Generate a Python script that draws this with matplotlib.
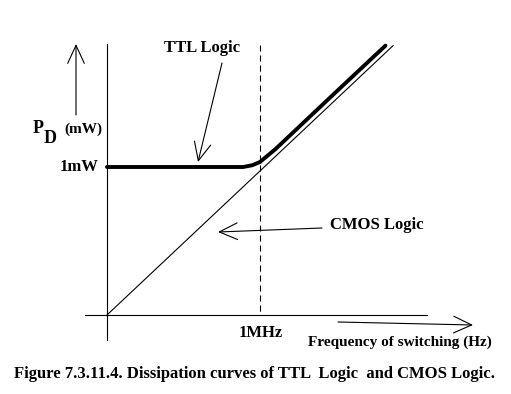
import matplotlib.pyplot as plt

# data (x in MHz-ish units, y in mW units)
cmos_f = [0.0, 1.87]
cmos_pd = [0.0, 1.82]
ttl_f = [0.0, 0.89, 0.95, 1.0, 1.1, 1.3, 1.5, 1.82]
ttl_pd = [1.0, 1.0, 1.012, 1.034, 1.12, 1.315, 1.51, 1.82]
f_mark = 1.0
pd_mark = 1.0
x_tick_label = "1MHz"
y_tick_label = "1mW"
caption = "Figure 7.3.11.4. Dissipation curves of TTL  Logic  and CMOS Logic."

W, H = 511, 394
X0, Y0, SX, SY = 107, 315, 153.0, 148.0


def px(x, y):
    # pixel position -> data coords
    return ((x - X0) / SX, (Y0 - y) / SY)


plt.rcParams['font.family'] = ['Liberation Serif', 'DejaVu Serif']
fig = plt.figure(figsize=(W / 100, H / 100), dpi=100)
ax = fig.add_axes([0, 0, 1, 1])
ax.set_xlim(px(0, 0)[0], px(W, 0)[0])
ax.set_ylim(px(0, H)[1], px(0, 0)[1])
ax.axis('off')

fs = 12
kw = dict(fontsize=fs, fontweight='bold', color='black')

# axes lines
a, b = px(85, 315), px(427, 315)
ax.plot([a[0], b[0]], [a[1], b[1]], color='black', lw=0.8)
a, b = px(107, 44), px(107, 340)
ax.plot([a[0], b[0]], [a[1], b[1]], color='black', lw=0.8)

# curves
ax.plot(cmos_f, cmos_pd, color='black', lw=0.8)
ax.plot(ttl_f, ttl_pd, color='black', lw=2.8, solid_capstyle='round')

# dashed line at 1MHz
ax.plot([f_mark, f_mark], [px(0, 45)[1], 0], color='black', lw=0.8,
        dashes=(5.5, 3.5))

arrow = dict(arrowstyle='->,head_length=1.3,head_width=0.6', color='black', lw=0.8,
             shrinkA=0, shrinkB=0)

# y axis arrow and label
ax.annotate('', xy=px(76, 44), xytext=px(76, 115), arrowprops=arrow)
ax.text(*px(33, 128), 'P', ha='left', va='center', fontsize=13, fontweight='bold')
ax.text(*px(44, 138), 'D', ha='left', va='center', fontsize=13, fontweight='bold')
ax.text(*px(64, 129), '(mW)', ha='left', va='center', fontsize=11, fontweight='bold')
ax.text(*px(98, 167), y_tick_label, ha='right', va='center', **kw)

# x axis arrow and labels
ax.annotate('', xy=px(473, 325), xytext=px(338, 322), arrowprops=arrow)
ax.text(*px(261, 333), x_tick_label, ha='center', va='center', **kw)
ax.text(*px(400, 342), 'Frequency of switching (Hz)', ha='center', va='center',
        fontsize=11, fontweight='bold')

# curve labels
ax.text(*px(202, 48), 'TTL Logic', ha='center', va='center', **kw)
ax.annotate('', xy=px(198, 162), xytext=px(222, 63), arrowprops=arrow)
ax.text(*px(377, 225), 'CMOS Logic', ha='center', va='center', **kw)
ax.annotate('', xy=px(218, 232), xytext=px(322, 228), arrowprops=arrow)

# caption
ax.text(*px(14, 374), caption, ha='left', va='center', **kw)

fig.savefig('out.png', dpi=100)
